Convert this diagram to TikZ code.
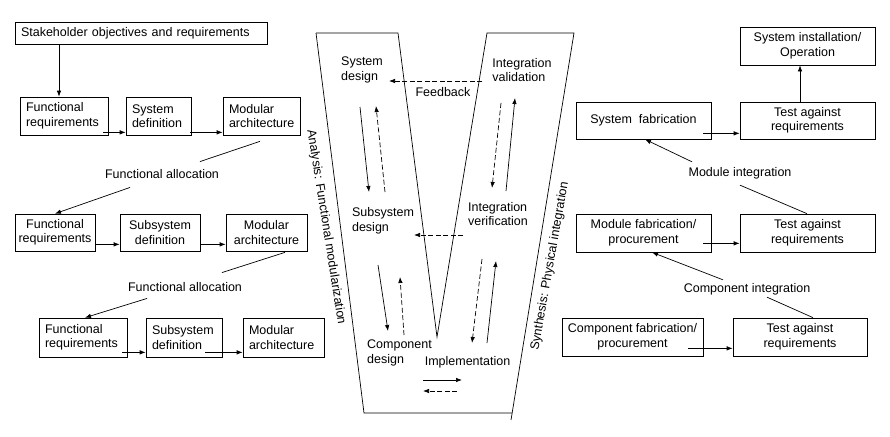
\documentclass[tikz,border=0pt]{standalone}
\usepackage{fontspec}
\setmainfont{Liberation Sans}
\usetikzlibrary{arrows.meta}

\tikzset{
    box/.style={draw, align=center, inner sep=1pt, minimum height=37pt, minimum width=#1},
    lbox/.style={draw, align=left, inner xsep=6pt, inner ysep=0pt, minimum height=38pt, text width=#1},
    lbl/.style={inner sep=2pt},
    vtext/.style={align=left, inner sep=2pt},
    dasharrow/.style={dash pattern=on 5pt off 2.5pt, ->}
}

\begin{document}
\begin{tikzpicture}[x=1pt, y=-1pt, line width=0.7pt, >={Latex[length=6pt,width=4.5pt]},
    font=\fontsize{12.5}{14.5}\selectfont]
    \useasboundingbox (0,0) rectangle (890,436);

    % analysis side
    \node[lbox=240pt, minimum height=22pt] (stake) at (141,33) {Stakeholder objectives and requirements};
    \node[lbox=76pt] (fr1) at (64,116) {Functional\\requirements};
    \node[lbox=53pt] (sd1) at (158.5,116) {System\\definition};
    \node[lbox=65pt] (ma1) at (261.5,116) {Modular\\architecture};
    \node[lbl] (fa1) at (162,174) {Functional allocation};
    \node[box=80pt] (fr2) at (55,232.5) {Functional\\requirements};
    \node[box=80pt] (sd2) at (160,232.5) {Subsystem\\definition};
    \node[box=81pt] (ma2) at (266.5,232.5) {Modular\\architecture};
    \node[lbl] (fa2) at (185,287) {Functional allocation};
    \node[lbox=76pt, minimum height=39pt] (fr3) at (83,337.5) {Functional\\requirements};
    \node[lbox=64pt, minimum height=39pt] (sd3) at (184,337.5) {Subsystem\\definition};
    \node[lbox=69pt, minimum height=39pt] (ma3) at (283.5,337.5) {Modular\\architecture};

    \draw[->] ([xshift=-5pt]fr1.north |- stake.south) -- ([xshift=-5pt]fr1.north);
    \draw[->] ([shift={(-5pt,3pt)}]fr1.south east) -- ([yshift=3pt]sd1.south west);
    \draw[->] ([shift={(-1pt,3pt)}]sd1.south east) -- ([yshift=3pt]ma1.south west);
    \draw ([shift={(-1.5pt,-6pt)}]ma1.south) -- ([shift={(38pt,5.5pt)}]fa1.north);
    \draw[->] ([shift={(-32pt,-6.5pt)}]fa1.south) -- (fr2.north);
    \draw[->] ([yshift=7pt]fr2.south east) -- ([yshift=7pt]sd2.south west);
    \draw[->] ([yshift=7pt]sd2.south east) -- ([yshift=7pt]ma2.south west);
    \draw ([shift={(18.5pt,-1pt)}]ma2.south) -- ([shift={(37pt,7.5pt)}]fa2.north);
    \draw[->] ([shift={(-38pt,-4.5pt)}]fa2.south) -- ([xshift=2pt]fr3.north);
    \draw[->] ([shift={(-5pt,5pt)}]fr3.south east) -- ([yshift=5pt]sd3.south west);
    \draw[->] ([shift={(-17pt,5pt)}]sd3.south east) -- ([yshift=5pt]ma3.south west);

    % synthesis side
    \node[box=135pt, minimum height=38pt] (inst) at (807.5,46) {System installation/\\Operation};
    \node[box=135pt] (test1) at (807.5,120.5) {Test against\\requirements};
    \node[box=135pt] (sfab) at (643.5,120.5) {System\ \ fabrication};
    \node[lbl] (mi) at (740,173) {Module integration};
    \node[box=135pt, minimum height=38pt] (mfab) at (643.5,233) {Module fabrication/\\procurement};
    \node[box=135pt, minimum height=38pt] (test2) at (807.5,233) {Test against\\requirements};
    \node[lbl] (ci) at (747,289) {Component integration};
    \node[box=141pt, minimum height=38pt] (cfab) at (632.5,337) {Component fabrication/\\procurement};
    \node[box=134pt, minimum height=38pt] (test3) at (800,337) {Test against\\requirements};

    \draw[->] ([shift={(-8pt,6pt)}]sfab.south east) -- ([yshift=6pt]test1.south west);
    \draw[->] ([xshift=-7.5pt]test1.north) -- ([xshift=-7.5pt]inst.south);
    \draw[->] ([shift={(-48pt,3pt)}]mi.north) -- ([xshift=1.5pt]sfab.south);
    \draw ([yshift=-4pt]mi.south) -- ([xshift=-0.5pt]test2.north);
    \draw[->] ([shift={(-8pt,9pt)}]mfab.south east) -- ([yshift=9pt]test2.south west);
    \draw[->] ([shift={(-24pt,1pt)}]ci.north) -- ([xshift=8.5pt]mfab.south);
    \draw ([xshift=20pt]ci.south) -- ([xshift=13pt]test3.north);
    \draw[->] ([shift={(-15pt,8pt)}]cfab.south east) -- ([yshift=8pt]test3.south west);

    % the V
    \draw (316,33) -- (398,33) -- (437,337) -- (487,33) -- (574,33) -- (511,420);
    \draw (316,33) -- (364,413) -- (512,413);
    \node[rotate=-81] (anal) at (326,227) {Analysis: Functional modularization};
    \node[rotate=80] (synth) at (550,266) {Synthesis: Physical integration};

    \node[vtext] (sysd) at (362,70) {System\\design};
    \node[vtext] (intval) at (522,70) {Integration\\validation};
    \node[lbl] (fb) at (443,92) {Feedback};
    \node[vtext] (subd) at (383,221) {Subsystem\\design};
    \node[vtext] (intver) at (498,214) {Integration\\verification};
    \node[vtext] (compd) at (399.5,353) {Component\\design};
    \node[lbl] (impl) at (467.5,362) {Implementation};

    \draw[dasharrow] ([shift={(-40pt,-11pt)}]intval.center) -- ([shift={(27pt,-11pt)}]sysd.center);
    \draw[->] ([shift={(-2pt,-37pt)}]sysd.center) -- ([shift={(-14pt,29pt)}]subd.center);
    \draw[dasharrow] ([shift={(2pt,29pt)}]subd.center) -- ([shift={(14pt,-36pt)}]sysd.center);
    \draw[dasharrow] ([shift={(-21pt,-33pt)}]intval.center) -- ([shift={(-6pt,26pt)}]intver.center);
    \draw[->] ([shift={(8pt,23pt)}]intver.center) -- ([shift={(-7pt,-28pt)}]intval.center);
    \draw[dasharrow] ([shift={(-35pt,-21pt)}]intver.center) -- ([shift={(31pt,-14pt)}]subd.center);
    \draw[->] ([shift={(-5pt,-44pt)}]subd.center) -- ([shift={(-11.5pt,22pt)}]compd.center);
    \draw[dasharrow] ([shift={(4.5pt,18pt)}]compd.center) -- ([shift={(17pt,-56pt)}]subd.center);
    \draw[dasharrow] ([shift={(-16pt,-45pt)}]intver.center) -- ([shift={(4.5pt,19pt)}]impl.center);
    \draw[->] ([shift={(19.5pt,19pt)}]impl.center) -- ([shift={(-2pt,-47pt)}]intver.center);
    \draw[->] ([shift={(-44.5pt,-18pt)}]impl.center) -- ([shift={(-5.5pt,-18pt)}]impl.center);
    \draw[dasharrow] ([shift={(-10.5pt,-29pt)}]impl.center) -- ([shift={(-44.5pt,-29pt)}]impl.center);
\end{tikzpicture}
\end{document}
